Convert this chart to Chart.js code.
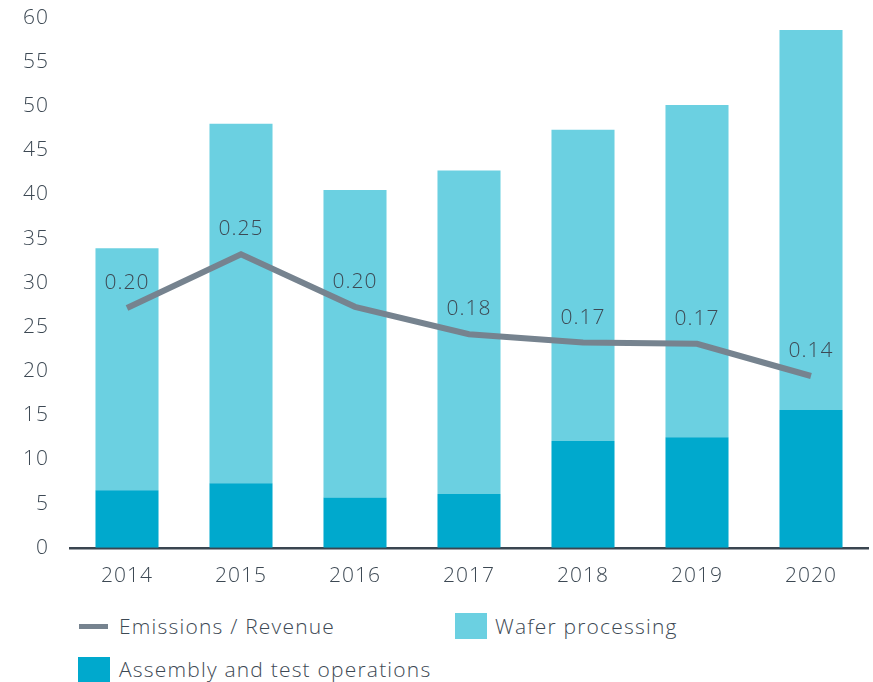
<!DOCTYPE html>
<html>
<head>
<meta charset="utf-8">
<script src="https://cdn.jsdelivr.net/npm/chart.js@4.4.1/dist/chart.umd.min.js"></script>
<style>
    body { margin: 0; background: #fff; font-family: "Open Sans", Lato, sans-serif; overflow: hidden; }
    #wrap { position: relative; width: 873px; height: 682px; overflow: hidden; }
    #chart-box { position: absolute; left: 0; top: -8px; width: 873px; height: 605px; }
    .leyenda { position: absolute; font-size: 21px; font-weight: 300; color: #3d4954; line-height: 24px; letter-spacing: 1.2px; }
    .marca-linea { position: absolute; width: 29px; height: 5px; background: #76838f; }
    .marca-caja { position: absolute; width: 32px; height: 26px; }
</style>
</head>
<body>
<div id="wrap">
    <div id="chart-box"><canvas id="emisiones-chart"></canvas></div>

    <div class="marca-linea" style="left:79px; top:624px;"></div>
    <div class="leyenda" style="left:119px; top:614px;">Emissions / Revenue</div>

    <div class="marca-caja" style="left:455px; top:613px; background:#6bd0e1;"></div>
    <div class="leyenda" style="left:495px; top:614px;">Wafer processing</div>

    <div class="marca-caja" style="left:78px; top:657px; background:#00a9cd;"></div>
    <div class="leyenda" style="left:119px; top:657px;">Assembly and test operations</div>
</div>

<script>
// Datos
const years = ['2014', '2015', '2016', '2017', '2018', '2019', '2020'];
const assembly = [6.5, 7.3, 5.7, 6.1, 12.1, 12.5, 15.6];
const wafer = [27.4, 40.7, 34.8, 36.6, 35.2, 37.6, 43.0];
const emissionsRevenue = [0.201, 0.246, 0.202, 0.179, 0.172, 0.171, 0.144];
const yTicks = [0, 5, 10, 15, 20, 25, 30, 35, 40, 45, 50, 55, 60];

const colorTexto = '#3d4954';
const fuente = '"Open Sans", Lato, sans-serif';

// Espaciado de letras para que el texto se parezca más al original
const espaciado = {
    id: 'espaciado',
    beforeDraw(chart) {
        chart.ctx.letterSpacing = '1px';
    }
};

// Plugin simple para escribir los valores de la línea
const etiquetasLinea = {
    id: 'etiquetasLinea',
    afterDatasetsDraw(chart) {
        const ctx = chart.ctx;
        const meta = chart.getDatasetMeta(2);
        ctx.save();
        ctx.font = '300 21px ' + fuente;
        ctx.fillStyle = colorTexto;
        ctx.textAlign = 'center';
        ctx.textBaseline = 'middle';
        meta.data.forEach(function (pt, i) {
            ctx.fillText(emissionsRevenue[i].toFixed(2), pt.x, pt.y - 25);
        });
        ctx.restore();
    }
};

const ctx = document.getElementById('emisiones-chart').getContext('2d');
new Chart(ctx, {
    type: 'bar',
    data: {
        labels: years,
        datasets: [{
            label: 'Assembly and test operations',
            data: assembly,
            backgroundColor: '#00a9cd',
            stack: 'a',
            order: 2,
            barPercentage: 0.553,
            categoryPercentage: 1
        }, {
            label: 'Wafer processing',
            data: wafer,
            backgroundColor: '#6bd0e1',
            stack: 'a',
            order: 2,
            barPercentage: 0.553,
            categoryPercentage: 1
        }, {
            type: 'line',
            label: 'Emissions / Revenue',
            data: emissionsRevenue,
            yAxisID: 'y2',
            borderColor: '#76838f',
            borderWidth: 6,
            pointRadius: 0,
            tension: 0,
            order: 0
        }]
    },
    options: {
        responsive: true,
        maintainAspectRatio: false,
        animation: false,
        layout: { padding: { top: 8, right: 5, left: 0, bottom: 0 } },
        plugins: {
            legend: { display: false },
            tooltip: { enabled: false }
        },
        scales: {
            x: {
                stacked: true,
                grid: { display: false },
                border: { display: true, color: '#3a4550', width: 2.5 },
                ticks: {
                    color: colorTexto,
                    font: { family: fuente, size: 21, weight: 300 },
                    padding: 8
                }
            },
            y: {
                stacked: true,
                min: 0,
                max: 60,
                afterFit: function (scale) { scale.width = 70; },
                afterBuildTicks: function (scale) {
                    scale.ticks = yTicks.map(function (v) { return { value: v }; });
                },
                grid: { display: false },
                border: { display: false },
                ticks: {
                    color: colorTexto,
                    font: { family: fuente, size: 21, weight: 300 },
                    padding: 13
                }
            },
            y2: {
                display: false,
                min: 0,
                max: 0.4444
            }
        }
    },
    plugins: [espaciado, etiquetasLinea]
});
</script>
</body>
</html>
